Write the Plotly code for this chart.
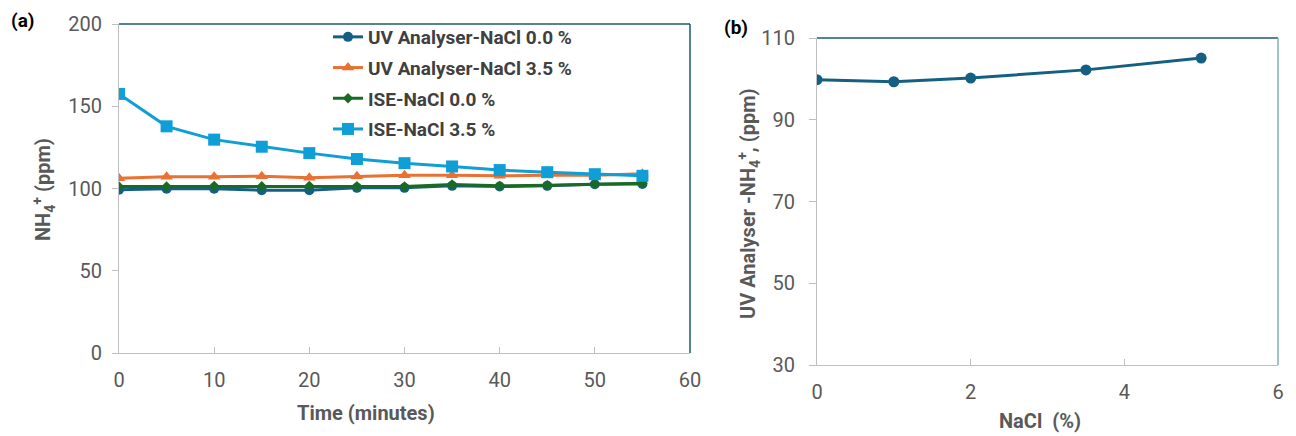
import plotly.graph_objects as go

time_min = [0, 5, 10, 15, 20, 25, 30, 35, 40, 45, 50, 55]
uv_nacl_00 = [99.2, 99.8, 99.8, 99.0, 99.0, 100.4, 100.4, 101.6, 101.2, 101.6, 102.6, 102.8]
uv_nacl_35 = [106.3, 107.1, 107.1, 107.5, 106.5, 107.5, 108.1, 108.0, 107.7, 108.1, 108.0, 109.0]
ise_nacl_00 = [101.2, 101.2, 101.6, 101.4, 101.6, 101.4, 101.2, 102.4, 101.6, 102.0, 102.8, 103.2]
ise_nacl_35 = [157.5, 137.8, 129.7, 125.4, 121.5, 117.9, 115.4, 113.4, 111.2, 109.9, 108.7, 107.7]

nacl_pct = [0, 1, 2, 3.5, 5]
uv_nh4 = [99.8, 99.3, 100.2, 102.2, 105.1]

names = ["UV Analyser-NaCl 0.0 %", "UV Analyser-NaCl 3.5 %", "ISE-NaCl 0.0 %", "ISE-NaCl 3.5 %"]
colors = ["#156082", "#E97132", "#196B24", "#0F9ED5"]
symbols = ["circle", "triangle-up", "diamond", "square"]
msizes = [10, 11, 8, 12]
series = [uv_nacl_00, uv_nacl_35, ise_nacl_00, ise_nacl_35]

FONT = "Roboto"
GRAY = "#595959"
FRAME = "#1d5a6b"
W, H = 1296, 436

fig = go.Figure()
for i, (nm, col, sym, ms, ys) in enumerate(zip(names, colors, symbols, msizes, series)):
    fig.add_trace(go.Scatter(x=time_min, y=ys, name=nm, mode="lines+markers",
                             legendgroup=f"g{i}",
                             line=dict(color=col, width=3),
                             marker=dict(color=col, symbol=sym, size=ms),
                             xaxis="x", yaxis="y"))

fig.add_trace(go.Scatter(x=nacl_pct, y=uv_nh4, mode="lines+markers", showlegend=False,
                         line=dict(color="#156082", width=3),
                         marker=dict(color="#156082", symbol="circle", size=11),
                         xaxis="x2", yaxis="y2"))

tickfont = dict(family=FONT, size=20, color=GRAY)
titlefont = dict(family=FONT, size=20, color=GRAY, weight="bold")

axis_common = dict(showgrid=False, zeroline=False, showline=True, linecolor="#bfbfbf",
                   linewidth=1, tickfont=tickfont, tickcolor="#bfbfbf", automargin=False)

fig.update_layout(
    width=W, height=H,
    margin=dict(l=0, r=0, t=0, b=0, autoexpand=False),
    paper_bgcolor="white", plot_bgcolor="white",
    xaxis=dict(domain=[119/W, 690/W], range=[0, 60], tickvals=[0, 10, 20, 30, 40, 50, 60],
               ticks="inside", ticklen=6, ticklabelstandoff=9, anchor="y", **axis_common),
    yaxis=dict(domain=[1-353/H, 1-24/H], range=[0, 200], tickvals=[0, 50, 100, 150, 200],
               ticks="outside", ticklen=6, ticklabelstandoff=6, anchor="x", **axis_common),
    xaxis2=dict(domain=[817/W, 1278/W], range=[0, 6], tickvals=[0, 2, 4, 6],
                ticks="inside", ticklen=6, ticklabelstandoff=9, anchor="y2", **axis_common),
    yaxis2=dict(domain=[1-365/H, 1-38/H], range=[30, 110], tickvals=[30, 50, 70, 90, 110],
                ticks="outside", ticklen=7, ticklabelstandoff=10, anchor="x2", **axis_common),
    legend=dict(x=328/W, y=1-18/H, xanchor="left", yanchor="top",
                bgcolor="rgba(255,255,255,0)",
                font=dict(family=FONT, size=19, color="#404040", weight="bold"),
                tracegroupgap=3, itemwidth=30),
    shapes=[
        dict(type="line", xref="x domain", yref="y domain", x0=0, x1=1, y0=1, y1=1,
             line=dict(color=FRAME, width=1.5)),
        dict(type="line", xref="x domain", yref="y domain", x0=1, x1=1, y0=0, y1=1,
             line=dict(color=FRAME, width=1.5)),
        dict(type="line", xref="x2 domain", yref="y2 domain", x0=0, x1=1, y0=1, y1=1,
             line=dict(color=FRAME, width=1.5)),
        dict(type="line", xref="x2 domain", yref="y2 domain", x0=1, x1=1, y0=0, y1=1,
             line=dict(color="#7fb0b0", width=1.5)),
    ],
    annotations=[
        dict(text="<b>(a)</b>", x=9/W, y=1-21/H, xref="paper", yref="paper",
             xanchor="left", yanchor="middle", showarrow=False,
             font=dict(family=FONT, size=19, color="black")),
        dict(text="<b>(b)</b>", x=722/W, y=1-27/H, xref="paper", yref="paper",
             xanchor="left", yanchor="middle", showarrow=False,
             font=dict(family=FONT, size=19, color="black")),
        dict(text="<b>NH<sub>4</sub><sup>+</sup> (ppm)</b>", x=44/W, y=1-190/H,
             xref="paper", yref="paper", xanchor="center", yanchor="middle",
             textangle=-90, showarrow=False, font=titlefont),
        dict(text="<b>Time (minutes)</b>", x=366/W, y=1-413/H,
             xref="paper", yref="paper", xanchor="center", yanchor="middle",
             showarrow=False, font=titlefont),
        dict(text="<b>UV Analyser -NH<sub>4</sub><sup>+</sup>, (ppm)</b>", x=748/W, y=1-204/H,
             xref="paper", yref="paper", xanchor="center", yanchor="middle",
             textangle=-90, showarrow=False, font=titlefont),
        dict(text="<b>NaCl  (%)</b>", x=1040/W, y=1-421/H,
             xref="paper", yref="paper", xanchor="center", yanchor="middle",
             showarrow=False, font=titlefont),
    ],
)

fig.write_html("out.html")
